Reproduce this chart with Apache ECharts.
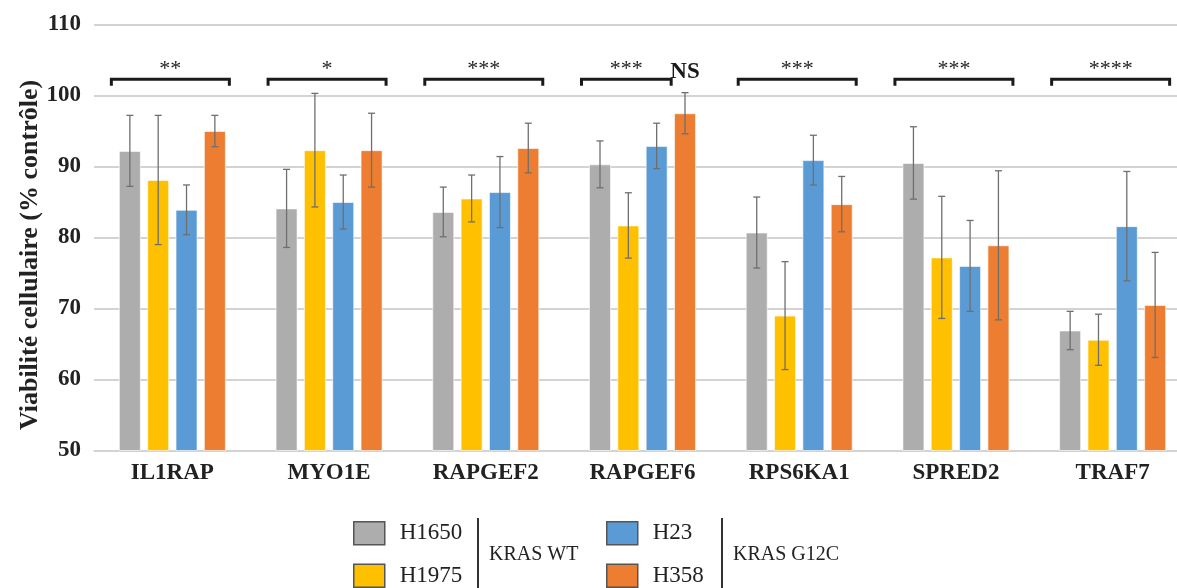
<!DOCTYPE html>
<html>
<head>
<meta charset="utf-8">
<script src="https://cdn.jsdelivr.net/npm/echarts@6/dist/echarts.min.js"></script>
<style>html,body{margin:0;padding:0;background:#fff;overflow:hidden;}#chart{width:1191px;height:588px;}</style>
</head>
<body>
<div id="chart"></div>
<script>
// ---- data ----
const categories = ['IL1RAP', 'MYO1E', 'RAPGEF2', 'RAPGEF6', 'RPS6KA1', 'SPRED2', 'TRAF7'];
const seriesNames = ['H1650', 'H1975', 'H23', 'H358'];
const H1650 = [92.2, 84.1, 83.6, 90.3, 80.7, 90.5, 66.9];
const H1975 = [88.1, 92.3, 85.5, 81.7, 69.0, 77.2, 65.6];
const H23   = [83.9, 85.0, 86.4, 92.9, 90.9, 76.0, 81.6];
const H358  = [95.0, 92.3, 92.6, 97.5, 84.7, 78.9, 70.5];
const H1650err = [5.0, 5.5, 3.5, 3.3, 5.0, 5.1, 2.7];
const H1975err = [9.1, 8.0, 3.3, 4.6, 7.6, 8.6, 3.6];
const H23err   = [3.5, 3.8, 5.0, 3.2, 3.5, 6.4, 7.7];
const H358err  = [2.2, 5.2, 3.5, 2.9, 3.9, 10.5, 7.4];
const yTicks = [50, 60, 70, 80, 90, 100, 110];
const sigCategory = [0, 1, 2, 3, 3, 4, 5, 6];
const sigLabels   = ['**', '*', '***', '***', 'NS', '***', '***', '****'];
const sigFirstBar = [0, 0, 0, 0, 3, 0, 0, 0];
const sigLastBar  = [3, 3, 3, 2, 3, 3, 3, 3];
const sigBracket  = [1, 1, 1, 1, 0, 1, 1, 1];
const groupLabels = ['KRAS WT', 'KRAS G12C'];
const yTitle = 'Viabilité cellulaire (% contrôle)';

// ---- style ----
const colors = ['#ADADAD', '#FFC000', '#5B9BD5', '#ED7D31'];
const BW = 22, GAP = 6.33;
const BRACKET_LEVEL = 102.3;
const SERIF = '"Liberation Serif", "Times New Roman", serif';
const values = [H1650, H1975, H23, H358];
const errs = [H1650err, H1975err, H23err, H358err];

function barOffset(k) { return (k - 1.5) * (BW + GAP); }

const series = [];
seriesNames.forEach((n, k) => {
  series.push({
    name: n, type: 'bar', data: values[k], barWidth: BW, barGap: (GAP / BW * 100).toFixed(1) + '%',
    itemStyle: { color: colors[k], borderColor: 'rgba(255,255,255,0.6)', borderWidth: 1 },
    z: 2
  });
});
seriesNames.forEach((n, k) => {
  series.push({
    name: n + ' err', type: 'custom', z: 5,
    data: values[k].map((v, i) => [i, v, errs[k][i]]),
    renderItem: function (params, api) {
      const idx = api.value(0), v = api.value(1), e = api.value(2);
      const x = api.coord([idx, v])[0] + barOffset(k);
      const yt = api.coord([idx, v + e])[1];
      const yb = api.coord([idx, v - e])[1];
      const st = { stroke: '#6f6f6f', lineWidth: 1.3 };
      return { type: 'group', children: [
        { type: 'line', shape: { x1: x, y1: yt, x2: x, y2: yb }, style: st },
        { type: 'line', shape: { x1: x - 3.5, y1: yt, x2: x + 3.5, y2: yt }, style: st },
        { type: 'line', shape: { x1: x - 3.5, y1: yb, x2: x + 3.5, y2: yb }, style: st }
      ]};
    }
  });
});
series.push({
  name: 'sig', type: 'custom', z: 6,
  data: sigCategory.map((c, i) => [c, sigFirstBar[i], sigLastBar[i], sigBracket[i]]),
  renderItem: function (params, api) {
    const idx = api.value(0), f = api.value(1), l = api.value(2), br = api.value(3);
    const cx = api.coord([idx, BRACKET_LEVEL])[0];
    const y = api.coord([idx, BRACKET_LEVEL])[1];
    const label = sigLabels[params.dataIndex];
    const children = [];
    if (br) {
      const x1 = cx + barOffset(f) - BW / 2 - 7.5;
      const x2 = cx + barOffset(l) + BW / 2 + 3.5;
      children.push({ type: 'polyline', shape: { points: [[x1, y + 6.5], [x1, y], [x2, y], [x2, y + 6.5]] },
        style: { stroke: '#1a1a1a', lineWidth: 3, fill: null } });
      children.push({ type: 'text', style: { text: label, x: (x1 + x2) / 2, y: y - 10, align: 'center', verticalAlign: 'middle',
        font: '22px ' + SERIF, fill: '#222' } });
    } else {
      const x = cx + barOffset(f);
      children.push({ type: 'text', style: { text: label, x: x, y: y - 7, align: 'center', verticalAlign: 'middle',
        font: 'bold 23px ' + SERIF, fill: '#1a1a1a' } });
    }
    return { type: 'group', children: children };
  }
});

const legendCommon = {
  orient: 'vertical', itemWidth: 31, itemHeight: 23, itemGap: 18, padding: 0, icon: 'rect',
  itemStyle: { borderColor: '#555', borderWidth: 1.5 },
  textStyle: { fontFamily: SERIF, fontSize: 23, color: '#222', padding: [0, 0, 0, 10] },
  selectedMode: false
};

const option = {
  animation: false,
  backgroundColor: '#fff',
  textStyle: { fontFamily: SERIF },
  grid: { left: 94, right: 0, top: 24.5, bottom: 137.5, containLabel: false },
  legend: [
    Object.assign({ data: [seriesNames[0], seriesNames[1]], left: 353, top: 521 }, legendCommon),
    Object.assign({ data: [seriesNames[2], seriesNames[3]], left: 606, top: 521 }, legendCommon)
  ],
  xAxis: {
    type: 'category', data: categories,
    axisLine: { lineStyle: { color: '#d4d4d4', width: 1.5 } },
    axisTick: { show: false },
    axisLabel: { fontFamily: SERIF, fontWeight: 'bold', fontSize: 23, color: '#222', margin: 11 }
  },
  yAxis: {
    type: 'value', min: yTicks[0], max: yTicks[yTicks.length - 1], interval: 10,
    axisLine: { show: false }, axisTick: { show: false },
    axisLabel: { fontFamily: SERIF, fontWeight: 'bold', fontSize: 23, color: '#222', margin: 13 },
    splitLine: { lineStyle: { color: '#c4c4c4', width: 1.5 } }
  },
  graphic: [
    { type: 'text', x: 30, y: 255, rotation: Math.PI / 2,
      style: { text: yTitle, font: 'bold 26px ' + SERIF, fill: '#222', align: 'center', verticalAlign: 'middle' } },
    { type: 'line', shape: { x1: 478, y1: 518, x2: 478, y2: 588 }, style: { stroke: '#333', lineWidth: 2 } },
    { type: 'line', shape: { x1: 722, y1: 518, x2: 722, y2: 588 }, style: { stroke: '#333', lineWidth: 2 } },
    { type: 'text', left: 489, top: 545, style: { text: groupLabels[0], font: '20px ' + SERIF, fill: '#222' } },
    { type: 'text', left: 733, top: 545, style: { text: groupLabels[1], font: '20px ' + SERIF, fill: '#222' } }
  ],
  series: series
};

const chart = echarts.init(document.getElementById('chart'), null, { renderer: 'canvas' });
chart.setOption(option);
</script>
</body>
</html>
